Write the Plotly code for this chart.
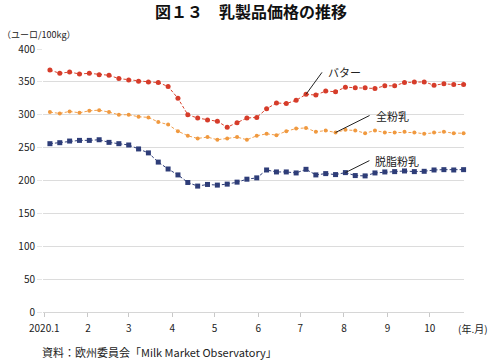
import pandas as pd
import plotly.graph_objects as go

# weekly observation dates (2020-01-05 .. 2020-10-25)
dates = list(pd.date_range("2020-01-05", periods=43, freq="7D"))

butter = [368, 363, 365, 362, 363, 361, 360, 355, 353, 351, 350, 349, 343, 325, 300,
          295, 292, 290, 281, 288, 295, 296, 309, 318, 317, 322, 331, 330, 336, 335,
          342, 341, 341, 340, 344, 344, 349, 350, 350, 345, 347, 346, 346]
wmp = [304, 302, 305, 303, 306, 307, 304, 300, 300, 297, 296, 289, 285, 275, 268,
       264, 266, 262, 264, 266, 262, 268, 271, 269, 275, 279, 280, 274, 276, 273,
       277, 276, 272, 276, 273, 273, 274, 273, 271, 273, 274, 272, 272]
smp = [256, 257.5, 260, 261, 261, 262, 258, 256, 254, 248, 242, 228, 217.5, 208.5, 197,
       191.5, 194, 193, 194.5, 197.5, 202, 204, 216, 213, 213, 211.5, 217, 208.5, 210.5, 209,
       212, 207.5, 207, 211.5, 213, 213.5, 214.5, 213.5, 214, 216, 216.5, 216, 216.5]

month_ticks = ["2020-01-01", "2020-02-01", "2020-03-01", "2020-04-01", "2020-05-01",
               "2020-06-01", "2020-07-01", "2020-08-01", "2020-09-01", "2020-10-01"]
month_labels = ["2020.1", "2", "3", "4", "5", "6", "7", "8", "9", "10"]
y_ticks = [0, 50, 100, 150, 200, 250, 300, 350, 400]

FONT = "Noto Sans CJK JP"

fig = go.Figure()
fig.add_trace(go.Scatter(x=dates, y=wmp, mode="lines+markers", name="全粉乳",
                         line=dict(color="#f2a04e", width=1, dash="3px,2px"),
                         marker=dict(symbol="circle", size=4, color="#f0993f"),
                         cliponaxis=False))
fig.add_trace(go.Scatter(x=dates, y=butter, mode="lines+markers", name="バター",
                         line=dict(color="#d9442e", width=1, dash="3px,2px"),
                         marker=dict(symbol="circle", size=5, color="#d63c2a"),
                         cliponaxis=False))
fig.add_trace(go.Scatter(x=dates, y=smp, mode="lines+markers", name="脱脂粉乳",
                         line=dict(color="#2e3d78", width=1, dash="3px,2px"),
                         marker=dict(symbol="square", size=5, color="#2e3d78"),
                         cliponaxis=False))

# leader-line labels
for name, vals, idx, ax, ay in [("バター", butter, 26, 16, -22),
                                ("全粉乳", wmp, 29, 34, -17),
                                ("脱脂粉乳", smp, 30, 24, -12)]:
    fig.add_annotation(x=dates[idx], y=vals[idx], text=name, showarrow=True,
                       arrowhead=0, arrowwidth=1, arrowcolor="#222222",
                       ax=ax, ay=ay, xanchor="left", yanchor="middle",
                       borderpad=5, font=dict(family=FONT, size=11, color="#222222"))

fig.add_annotation(text="図１３　乳製品価格の推移", x=0.495, y=1, xref="paper", yref="paper",
                   yshift=24, showarrow=False, xanchor="center", yanchor="bottom",
                   font=dict(family=FONT, size=16, color="#111111", weight="bold"))
fig.add_annotation(text="（ユーロ/100kg）", x=-0.102, y=1, xref="paper", yref="paper",
                   yshift=6, showarrow=False, xanchor="left", yanchor="bottom",
                   font=dict(family=FONT, size=9, color="#222222"))
fig.add_annotation(text="(年.月)", x=1.0, y=0, xref="paper", yref="paper",
                   xshift=-8, yshift=-16, showarrow=False, xanchor="left", yanchor="middle",
                   font=dict(family=FONT, size=10, color="#222222"))
fig.add_annotation(text="資料：欧州委員会「Milk Market Observatory」", x=-0.008, y=0,
                   xref="paper", yref="paper", yshift=-40, showarrow=False,
                   xanchor="left", yanchor="middle",
                   font=dict(family=FONT, size=11, color="#222222"))

fig.update_layout(
    width=491, height=360,
    margin=dict(l=43, r=27, t=49, b=48),
    paper_bgcolor="white", plot_bgcolor="white",
    showlegend=False,
    font=dict(family=FONT, size=10, color="#222222"),
    xaxis=dict(type="date", range=["2019-12-31 02:00", "2020-10-25 07:00"],
               tickvals=month_ticks, ticktext=month_labels,
               showgrid=False, showline=True, linecolor="#d6d6d6", linewidth=1,
               ticks="outside", ticklen=4, tickcolor="#c8c8c8",
               ticklabelstandoff=3, zeroline=False,
               tickfont=dict(family=FONT, size=10, color="#222222")),
    yaxis=dict(range=[0, 400], tickvals=y_ticks, showgrid=True, gridcolor="#dcdcdc",
               gridwidth=1, zeroline=False, showline=False,
               ticks="outside", ticklen=5, tickcolor="#e6e6e6",
               tickfont=dict(family=FONT, size=10, color="#222222")),
)

fig.write_html("out.html", config={"displayModeBar": False},
               post_script="document.body.style.margin='0';document.body.style.padding='0';")
